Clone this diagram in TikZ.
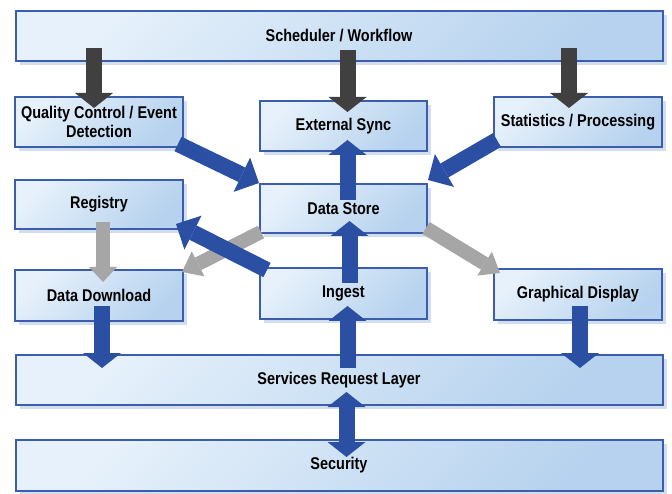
\documentclass[tikz,border=0pt]{standalone}
\usepackage{fontspec}
\setmainfont{Liberation Sans}[FakeStretch=0.85]
\usetikzlibrary{arrows.meta,calc,shadows}
\definecolor{boxline}{HTML}{3A5DAE}
\definecolor{boxlight}{HTML}{E6F1FB}
\definecolor{boxdark}{HTML}{B6D2EE}
\definecolor{boxshadow}{HTML}{D2DDEE}
\definecolor{flowblue}{HTML}{2B4FA2}
\definecolor{flowdark}{HTML}{404040}
\definecolor{flowgrey}{HTML}{A6A6A6}

\begin{document}
\begin{tikzpicture}[x=1pt,y=-1pt,
  box/.style={rectangle,draw=boxline,line width=2pt,top color=boxlight,bottom color=boxdark,shading angle=45,
    drop shadow={shadow xshift=4pt,shadow yshift=-4pt,fill=boxshadow,opacity=1},
    font=\bfseries\fontsize{17}{19}\selectfont,align=center,inner sep=0pt,minimum height=50pt},
  darr/.style={line width=16pt,flowdark,-{Triangle[width=38pt,length=15pt,line width=0pt]}},
  barr/.style={line width=16pt,flowblue,-{Triangle[width=38pt,length=#1,line width=0pt]}},
  barr/.default=15pt,
  garr/.style={line width=14pt,flowgrey,-{Triangle[width=28pt,length=#1,line width=0pt]}},
  garr/.default=15pt,
  bboth/.style={line width=16pt,flowblue,{Triangle[width=38pt,length=15pt,line width=0pt]}-{Triangle[width=38pt,length=15pt,line width=0pt]}}]
\useasboundingbox (0,0) rectangle (672,494);
\node (sched) at (339,36) [box][minimum width=647pt]{Scheduler / Workflow};
\node (qc) at (99,122) [box][minimum width=168pt]{Quality Control / Event\\Detection};
\node (ext) at (343.5,126) [box][minimum width=167pt]{External Sync};
\node (stat) at (578,122) [box][minimum width=168pt]{Statistics / Processing};
\node (reg) at (99,204.5) [box][minimum width=168pt,minimum height=49pt]{Registry};
\node (ds) at (343.5,208.5) [box][minimum width=167pt,minimum height=49pt]{Data Store};
\node (dd) at (99,295.5) [box][minimum width=168pt,minimum height=51pt]{Data Download};
\node (ing) at (343.5,293.5) [box][minimum width=167pt,minimum height=51pt]{Ingest};
\node (gd) at (578,294.5) [box][minimum width=168pt,minimum height=51pt]{Graphical Display};
\node (srl) at (339,380) [box][minimum width=647pt]{Services Request Layer};
\node (sec) at (339,465.5) [box][minimum width=647pt,minimum height=51pt]{Security};
% scheduler
\draw[darr] ($(qc.north |- sched.south)+(-5pt,14pt)$) -- ($(qc.north)+(-5pt,-12pt)$);
\draw[darr] ($(ext.north |- sched.south)+(4pt,12pt)$) -- ($(ext.north)+(4pt,-12pt)$);
\draw[darr] ($(stat.north |- sched.south)+(-9pt,14pt)$) -- ($(stat.north)+(-9pt,-12pt)$);
% data store
\draw[barr=19pt] ($(qc.south east)+(-6pt,4pt)$) -- (ds.north west);
\draw[barr=19pt] ($(stat.south west)+(4pt,8pt)$) -- ($(ds.north east)+(0pt,3pt)$);
\draw[barr] ($(ds.north)+(4pt,-17pt)$) -- ($(ext.south)+(4pt,12pt)$);
\draw[barr] ($(ing.north)+(6pt,-16pt)$) -- ($(ds.south)+(6pt,13pt)$);
\draw[barr] ($(srl.north -| ing.south)+(4pt,-14pt)$) -- ($(ing.south)+(4pt,14pt)$);
% grey
\draw[garr] ($(reg.south)+(4pt,8pt)$) -- ($(dd.north)+(4pt,-13pt)$);
\draw[garr=18pt] ($(ds.south west)+(2pt,2pt)$) -- ($(dd.north east)+(-2pt,-3pt)$);
\draw[garr=18pt] ($(ds.south east)+(-2pt,6pt)$) -- ($(gd.north west)+(7pt,-5pt)$);
% services
\draw[barr=19pt] ($(ing.north west)+(8pt,-3pt)$) -- ($(reg.south east)+(-8pt,6pt)$);
\draw[barr] ($(dd.south)+(3pt,16pt)$) -- ($(srl.north -| dd.south)+(3pt,-14pt)$);
\draw[barr] ($(gd.south)+(2pt,15pt)$) -- ($(srl.north -| gd.south)+(2pt,-14pt)$);
\draw[bboth] ($(srl.south -| ing.south)+(3pt,14pt)$) -- ($(sec.north -| ing.south)+(3pt,-18pt)$);
\end{tikzpicture}
\end{document}
